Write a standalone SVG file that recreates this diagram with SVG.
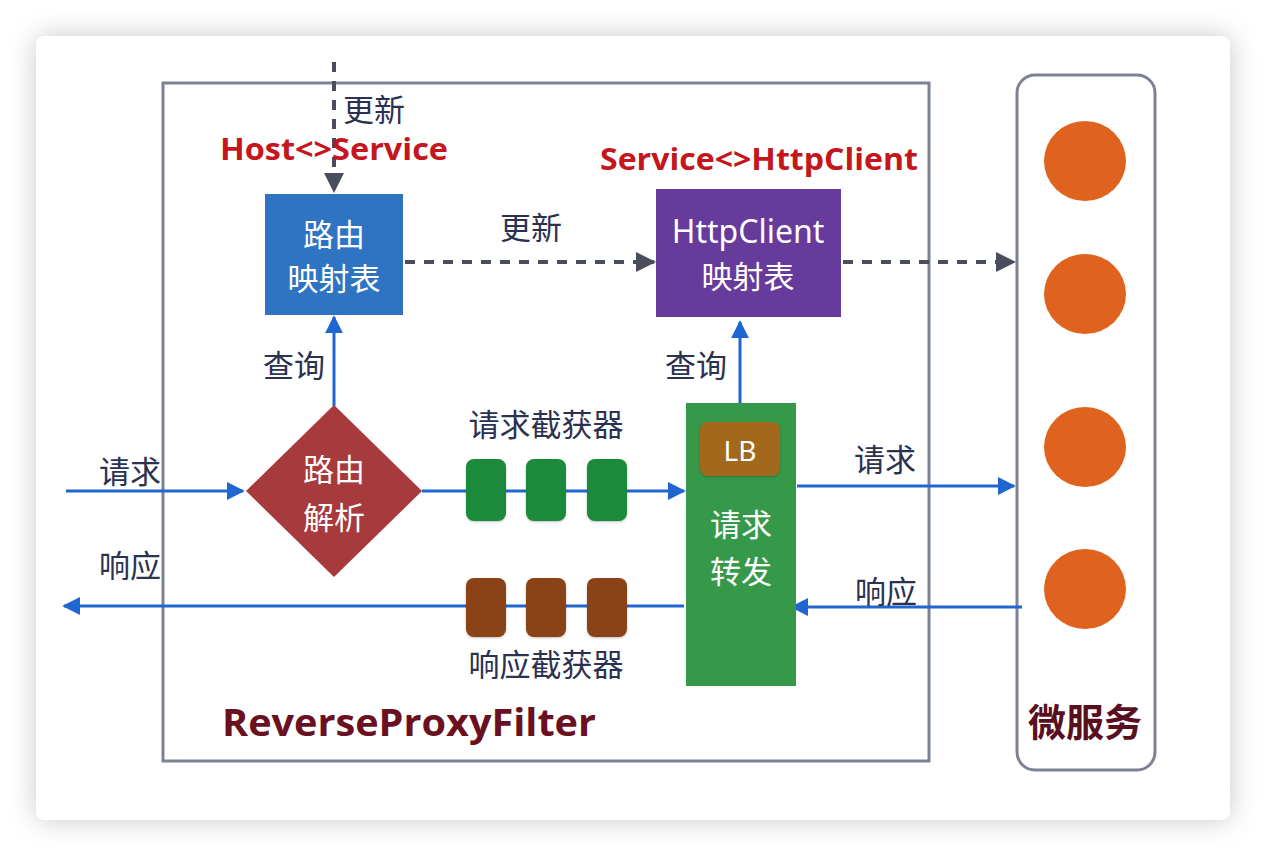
<svg xmlns="http://www.w3.org/2000/svg" width="1266" height="856" viewBox="0 0 1266 856">
  <defs>
    <filter id="shadow" x="-10%" y="-10%" width="120%" height="120%">
      <feDropShadow dx="0" dy="0" stdDeviation="14" flood-color="#000" flood-opacity="0.22"/>
    </filter>
    <filter id="soft" x="-20%" y="-20%" width="140%" height="140%">
      <feDropShadow dx="0" dy="1" stdDeviation="1.2" flood-color="#000" flood-opacity="0.25"/>
    </filter>
    <marker id="arrBlue" viewBox="0 0 10 10" refX="9" refY="5" markerWidth="6" markerHeight="6" markerUnits="strokeWidth" orient="auto">
      <path d="M0,0 L10,5 L0,10 Z" fill="#1f66d1"/>
    </marker>
    <marker id="arrGray" viewBox="0 0 10 10" refX="9" refY="5" markerWidth="5" markerHeight="5" markerUnits="strokeWidth" orient="auto">
      <path d="M0,0 L10,5 L0,10 Z" fill="#4a4d5c"/>
    </marker>
    <style>
      .cn { font-family: "Noto Sans CJK SC", "Noto Sans", sans-serif; }
      .lbl { font-size: 31px; fill: #2b3150; }
      .wt { font-size: 31px; fill: #ffffff; }
      .red { font-family: "Open Sans", "Noto Sans", sans-serif; font-weight: 700; font-size: 30px; fill: #c4161c; }
      .blue { stroke: #1f66d1; stroke-width: 3; fill: none; marker-end: url(#arrBlue); }
      .dash { stroke: #4a4d5c; stroke-width: 4; stroke-dasharray: 10 9; fill: none; marker-end: url(#arrGray); }
      .frame { stroke: #7d8196; stroke-width: 3; fill: none; }
    </style>
  </defs>

  <rect x="0" y="0" width="1266" height="856" fill="#ffffff"/>
  <rect id="card" x="36" y="36" width="1194" height="784" rx="9" fill="#ffffff" filter="url(#shadow)"/>

  <g id="filter-frame">
    <rect x="163" y="83" width="766" height="678" class="frame"/>
    <text x="222" y="736" font-family="Open Sans, Noto Sans, sans-serif" font-weight="700" font-size="37" fill="#6a1020" textLength="374" lengthAdjust="spacingAndGlyphs">ReverseProxyFilter</text>
  </g>

  <g id="microservices">
    <rect x="1017" y="75" width="138" height="695" rx="18" class="frame"/>
    <ellipse cx="1085" cy="161" rx="41" ry="40" fill="#e0621f"/>
    <ellipse cx="1085" cy="294" rx="41" ry="40" fill="#e0621f"/>
    <ellipse cx="1085" cy="447" rx="41" ry="40" fill="#e0621f"/>
    <ellipse cx="1085" cy="589" rx="41" ry="40" fill="#e0621f"/>
    <text x="1085" y="736" text-anchor="middle" class="cn" font-weight="700" font-size="38" fill="#5a0f1f">微服务</text>
  </g>

  <g id="connectors">
    <line x1="334" y1="62" x2="334" y2="191" class="dash"/>
    <line x1="405" y1="262" x2="654" y2="262" class="dash"/>
    <line x1="843" y1="262" x2="1014" y2="262" class="dash"/>
    <line x1="334" y1="406" x2="334" y2="317" class="blue"/>
    <line x1="740" y1="404" x2="740" y2="322" class="blue"/>
    <line x1="66" y1="491" x2="243" y2="491" class="blue"/>
    <line x1="422" y1="491" x2="684" y2="491" class="blue"/>
    <line x1="797" y1="486" x2="1014" y2="486" class="blue"/>
    <line x1="1022" y1="607" x2="792" y2="607" class="blue"/>
    <line x1="684" y1="606" x2="64" y2="606" class="blue"/>
  </g>

  <g id="labels">
    <text x="343" y="121" class="cn lbl" font-size="30">更新</text>
    <text x="220" y="160" class="red" textLength="228" lengthAdjust="spacingAndGlyphs">Host&lt;&gt;Service</text>
    <text x="600" y="170" class="red" textLength="318" lengthAdjust="spacingAndGlyphs">Service&lt;&gt;HttpClient</text>
    <text x="531" y="239" text-anchor="middle" class="cn lbl">更新</text>
    <text x="294" y="377" text-anchor="middle" class="cn lbl">查询</text>
    <text x="696" y="377" text-anchor="middle" class="cn lbl">查询</text>
    <text x="130" y="483" text-anchor="middle" class="cn lbl">请求</text>
    <text x="130" y="577" text-anchor="middle" class="cn lbl">响应</text>
    <text x="546" y="436" text-anchor="middle" class="cn lbl">请求截获器</text>
    <text x="546" y="676" text-anchor="middle" class="cn lbl">响应截获器</text>
    <text x="885" y="471" text-anchor="middle" class="cn lbl">请求</text>
    <text x="886" y="603" text-anchor="middle" class="cn lbl">响应</text>
  </g>

  <g id="route-table">
    <rect x="265" y="194" width="138" height="121" fill="#2f74c2"/>
    <text x="334" y="246" text-anchor="middle" class="cn wt">路由</text>
    <text x="334" y="290" text-anchor="middle" class="cn wt">映射表</text>
  </g>

  <g id="httpclient-table">
    <rect x="656" y="189" width="185" height="128" fill="#673b9c"/>
    <text x="748" y="243" text-anchor="middle" font-family="Noto Sans, sans-serif" font-size="32" fill="#ffffff">HttpClient</text>
    <text x="748" y="288" text-anchor="middle" class="cn wt">映射表</text>
  </g>

  <g id="route-parse">
    <polygon points="334,405 422,491 334,577 246,491" fill="#a73a3d"/>
    <text x="334" y="481" text-anchor="middle" class="cn wt">路由</text>
    <text x="334" y="529" text-anchor="middle" class="cn wt">解析</text>
  </g>

  <g id="request-interceptors">
    <rect x="466" y="459" width="40" height="62" rx="8" fill="#1e8a3b" filter="url(#soft)"/>
    <rect x="526" y="459" width="40" height="62" rx="8" fill="#1e8a3b" filter="url(#soft)"/>
    <rect x="587" y="459" width="40" height="62" rx="8" fill="#1e8a3b" filter="url(#soft)"/>
  </g>

  <g id="response-interceptors">
    <rect x="466" y="578" width="40" height="59" rx="8" fill="#8b4214" filter="url(#soft)"/>
    <rect x="526" y="578" width="40" height="59" rx="8" fill="#8b4214" filter="url(#soft)"/>
    <rect x="587" y="578" width="40" height="59" rx="8" fill="#8b4214" filter="url(#soft)"/>
  </g>

  <g id="forwarder">
    <rect x="686" y="403" width="110" height="283" fill="#36994a"/>
    <rect x="700" y="422" width="80" height="54" rx="8" fill="#a2681f" filter="url(#soft)"/>
    <text x="740" y="461" text-anchor="middle" font-family="Noto Sans, sans-serif" font-size="28" fill="#ffffff">LB</text>
    <text x="741" y="536" text-anchor="middle" class="cn wt">请求</text>
    <text x="741" y="583" text-anchor="middle" class="cn wt">转发</text>
  </g>
</svg>
